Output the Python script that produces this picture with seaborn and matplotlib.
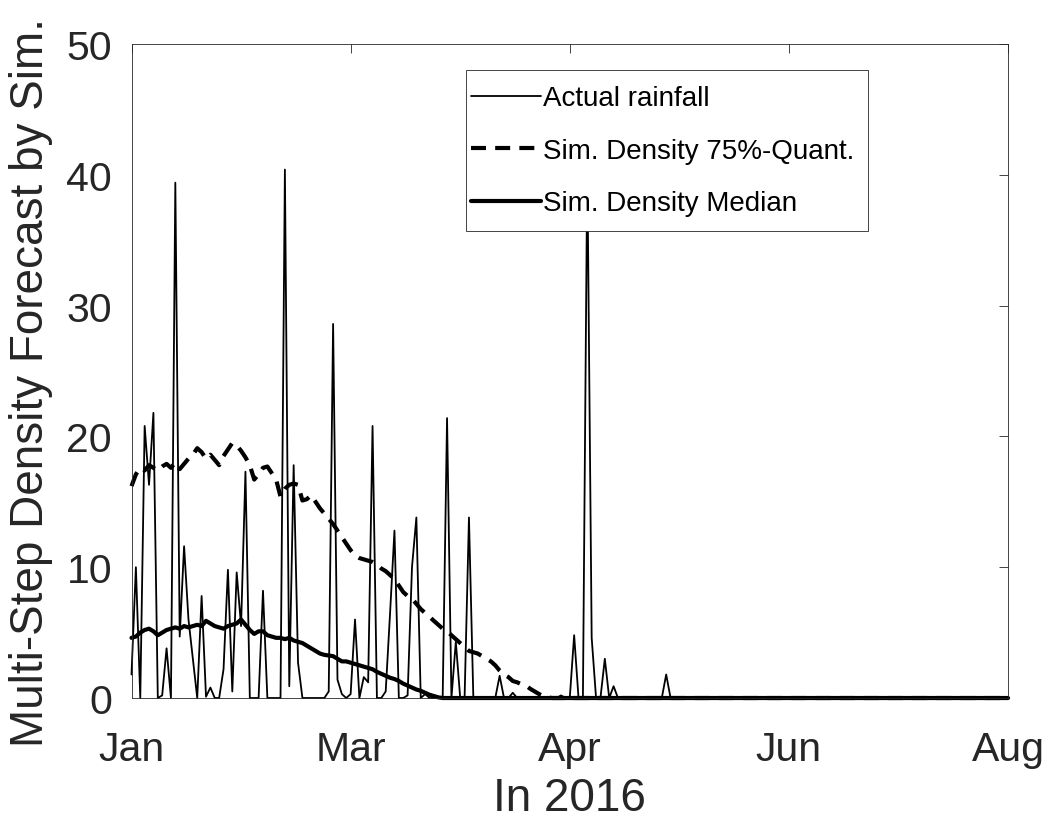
import matplotlib
matplotlib.use("Agg")
import numpy as np
import pandas as pd
import seaborn as sns
import matplotlib.pyplot as plt
from matplotlib.patches import Rectangle

# x axis: day index of the forecast period, labelled by month
month_ticks = [0, 50, 100, 150, 200]
month_labels = ["Jan", "Mar", "Apr", "Jun", "Aug"]
value_ticks = [0, 10, 20, 30, 40, 50]

# observed daily rainfall
rainfall = [
    1.8, 10.0, 0.0, 20.8, 16.3, 21.8, 0.0, 0.2, 3.8, 0.0,
    39.4, 4.7, 11.6, 6.0, 3.0, 0.0, 7.8, 0.1, 0.8, 0.0,
    0.0, 2.2, 9.8, 0.5, 9.6, 5.5, 17.3, 0.0, 0.0, 0.0,
    8.2, 0.0, 0.0, 0.0, 0.0, 40.4, 0.9, 17.8, 2.7, 0.0,
    0.0, 0.0, 0.0, 0.0, 0.0, 0.5, 28.6, 1.4, 0.3, 0.0,
    0.3, 6.0, 0.0, 1.6, 1.2, 20.8, 0.0, 0.0, 0.5, 6.5,
    12.8, 0.0, 0.0, 0.2, 10.0, 13.8, 0.0, 0.3, 0.0, 0.0,
    0.0, 0.0, 21.4, 0.0, 4.3, 0.0, 0.0, 13.8, 0.0, 0.0,
    0.0, 0.0, 0.0, 0.0, 1.7, 0.0, 0.0, 0.4, 0.0, 0.0,
    0.0, 0.0, 0.0, 0.0, 0.0, 0.0, 0.0, 0.0, 0.2, 0.0,
    0.0, 4.8, 0.0, 0.0, 41.0, 4.6, 0.0, 0.0, 3.0, 0.0,
    0.9, 0.0, 0.0, 0.0, 0.0, 0.0, 0.0, 0.0, 0.0, 0.0,
    0.0, 0.0, 1.8, 0.0, 0.0, 0.0, 0.0, 0.0, 0.0, 0.0,
    0.0, 0.0, 0.0, 0.0, 0.0, 0.0, 0.0, 0.0, 0.0, 0.0,
    0.0, 0.0, 0.0, 0.0, 0.0, 0.0, 0.0, 0.0, 0.0, 0.0,
    0.0, 0.0, 0.0, 0.0, 0.0, 0.0, 0.0, 0.0, 0.0, 0.0,
    0.0, 0.0, 0.0, 0.0, 0.0, 0.0, 0.0, 0.0, 0.0, 0.0,
    0.0, 0.0, 0.0, 0.0, 0.0, 0.0, 0.0, 0.0, 0.0, 0.0,
    0.0, 0.0, 0.0, 0.0, 0.0, 0.0, 0.0, 0.0, 0.0, 0.0,
    0.0, 0.0, 0.0, 0.0, 0.0, 0.0, 0.0, 0.0, 0.0, 0.0,
    0.0,
]

# 75% quantile of the simulated forecast density
quant75 = [
    16.2, 17.1, 17.6, 17.4, 17.8, 17.6, 17.4, 17.7, 17.9, 17.6,
    18.0, 17.5, 17.9, 18.3, 18.6, 19.1, 18.8, 18.3, 18.6, 18.2,
    17.8, 18.5, 19.0, 19.5, 19.3, 18.9, 18.4, 17.8, 16.7, 17.1,
    17.6, 17.7, 17.2, 16.7, 15.4, 16.0, 16.3, 16.4, 16.3, 15.1,
    15.2, 15.5, 15.0, 14.5, 14.1, 13.7, 13.3, 12.8, 12.3, 11.8,
    11.3, 10.9, 10.7, 10.6, 10.5, 10.4, 10.2, 9.9, 9.7, 9.4,
    9.1, 8.6, 8.1, 7.8, 7.6, 7.2, 6.8, 6.5, 6.2, 5.9,
    5.6, 5.3, 5.1, 4.8, 4.5, 4.2, 3.9, 3.6, 3.5, 3.4,
    3.2, 3.0, 2.8, 2.5, 2.1, 1.8, 1.6, 1.3, 1.2, 1.05,
    0.95, 0.7, 0.5, 0.3, 0.15, 0.05, 0.0, 0.0, 0.0, 0.0,
    0.0, 0.0, 0.0, 0.0, 0.0, 0.0, 0.0, 0.0, 0.0, 0.0,
    0.0, 0.0, 0.0, 0.0, 0.0, 0.0, 0.0, 0.0, 0.0, 0.0,
    0.0, 0.0, 0.0, 0.0, 0.0, 0.0, 0.0, 0.0, 0.0, 0.0,
    0.0, 0.0, 0.0, 0.0, 0.0, 0.0, 0.0, 0.0, 0.0, 0.0,
    0.0, 0.0, 0.0, 0.0, 0.0, 0.0, 0.0, 0.0, 0.0, 0.0,
    0.0, 0.0, 0.0, 0.0, 0.0, 0.0, 0.0, 0.0, 0.0, 0.0,
    0.0, 0.0, 0.0, 0.0, 0.0, 0.0, 0.0, 0.0, 0.0, 0.0,
    0.0, 0.0, 0.0, 0.0, 0.0, 0.0, 0.0, 0.0, 0.0, 0.0,
    0.0, 0.0, 0.0, 0.0, 0.0, 0.0, 0.0, 0.0, 0.0, 0.0,
    0.0, 0.0, 0.0, 0.0, 0.0, 0.0, 0.0, 0.0, 0.0, 0.0,
    0.0,
]

# median of the simulated forecast density
median = [
    4.6, 4.7, 5.0, 5.2, 5.3, 5.1, 4.8, 5.0, 5.2, 5.3,
    5.4, 5.3, 5.5, 5.4, 5.5, 5.6, 5.5, 5.9, 5.7, 5.5,
    5.4, 5.3, 5.5, 5.6, 5.7, 6.0, 5.6, 5.2, 4.9, 5.1,
    5.1, 4.8, 4.7, 4.6, 4.6, 4.5, 4.6, 4.4, 4.3, 4.2,
    4.0, 3.8, 3.6, 3.4, 3.3, 3.25, 3.2, 3.0, 2.8, 2.8,
    2.7, 2.6, 2.5, 2.4, 2.3, 2.2, 2.0, 1.85, 1.7, 1.55,
    1.45, 1.3, 1.1, 0.95, 0.8, 0.65, 0.55, 0.4, 0.25, 0.15,
    0.05, 0.0, 0.0, 0.0, 0.0, 0.0, 0.0, 0.0, 0.0, 0.0,
    0.0, 0.0, 0.0, 0.0, 0.0, 0.0, 0.0, 0.0, 0.0, 0.0,
    0.0, 0.0, 0.0, 0.0, 0.0, 0.0, 0.0, 0.0, 0.0, 0.0,
    0.0, 0.0, 0.0, 0.0, 0.0, 0.0, 0.0, 0.0, 0.0, 0.0,
    0.0, 0.0, 0.0, 0.0, 0.0, 0.0, 0.0, 0.0, 0.0, 0.0,
    0.0, 0.0, 0.0, 0.0, 0.0, 0.0, 0.0, 0.0, 0.0, 0.0,
    0.0, 0.0, 0.0, 0.0, 0.0, 0.0, 0.0, 0.0, 0.0, 0.0,
    0.0, 0.0, 0.0, 0.0, 0.0, 0.0, 0.0, 0.0, 0.0, 0.0,
    0.0, 0.0, 0.0, 0.0, 0.0, 0.0, 0.0, 0.0, 0.0, 0.0,
    0.0, 0.0, 0.0, 0.0, 0.0, 0.0, 0.0, 0.0, 0.0, 0.0,
    0.0, 0.0, 0.0, 0.0, 0.0, 0.0, 0.0, 0.0, 0.0, 0.0,
    0.0, 0.0, 0.0, 0.0, 0.0, 0.0, 0.0, 0.0, 0.0, 0.0,
    0.0, 0.0, 0.0, 0.0, 0.0, 0.0, 0.0, 0.0, 0.0, 0.0,
    0.0,
]

series_labels = ["Actual rainfall", "Sim. Density 75%-Quant.", "Sim. Density Median"]

df = pd.DataFrame({
    "day": np.arange(len(rainfall)),
    "rain": rainfall,
    "q75": quant75,
    "median": median,
})

sns.set_theme(style="white")
plt.rcParams["font.family"] = ["Liberation Sans", "DejaVu Sans"]

axis_grey = "#262626"

fig = plt.figure(figsize=(10.52, 8.29), dpi=100)
ax = fig.add_axes([0.125, 0.1568, 0.8332, 0.7889])

sns.lineplot(data=df, x="day", y="rain", color="black", linewidth=1.3,
             estimator=None, errorbar=None, legend=False, ax=ax)
sns.lineplot(data=df, x="day", y="q75", color="black", linewidth=3.0,
             estimator=None, errorbar=None, legend=False, ax=ax)
sns.lineplot(data=df, x="day", y="median", color="black", linewidth=3.0,
             estimator=None, errorbar=None, legend=False, ax=ax)

rain_line, q_line, med_line = ax.lines[:3]
q_line.set_linestyle((0, (3.6, 2.2)))
for line, lab in zip((rain_line, q_line, med_line), series_labels):
    line.set_label(lab)
    line.set_clip_on(False)
    line.set_solid_capstyle("round")
    line.set_solid_joinstyle("round")

ax.set_xlim(month_ticks[0], month_ticks[-1])
ax.set_ylim(value_ticks[0], value_ticks[-1])
ax.set_xticks(month_ticks)
ax.set_xticklabels(month_labels)
ax.set_yticks(value_ticks)

ax.tick_params(direction="in", length=6.5, width=0.6, color=axis_grey,
               labelcolor=axis_grey, labelsize=29.5, top=True, right=True)
ax.tick_params(axis="x", pad=23)
ax.tick_params(axis="y", pad=14)
for sp in ax.spines.values():
    sp.set_visible(True)
    sp.set_color(axis_grey)
    sp.set_linewidth(0.6)

ax.set_xlabel("In 2016", fontsize=33, color=axis_grey, labelpad=6)
ax.set_ylabel("Multi-Step Density Forecast by Sim.", fontsize=33,
              color=axis_grey)
ax.yaxis.set_label_coords(-0.0896, 0.484)

# legend box: white panel with a thin border, entries laid over it
legend_box = Rectangle((0.3816, 0.7141), 0.4587, 0.2461, transform=ax.transAxes,
                       facecolor="white", edgecolor=axis_grey, linewidth=0.6,
                       zorder=4)
ax.add_patch(legend_box)
leg = ax.legend(handles=[rain_line, q_line, med_line], labels=series_labels,
                loc="upper left", bbox_to_anchor=(0.3702, 0.960),
                fontsize=20, frameon=False, handlelength=2.5,
                handletextpad=0.1, borderpad=0.55, labelspacing=0.95,
                borderaxespad=0)
leg.set_zorder(5)
for t in leg.get_texts():
    t.set_color("black")

fig.savefig("out.png", dpi=100, facecolor="white")
